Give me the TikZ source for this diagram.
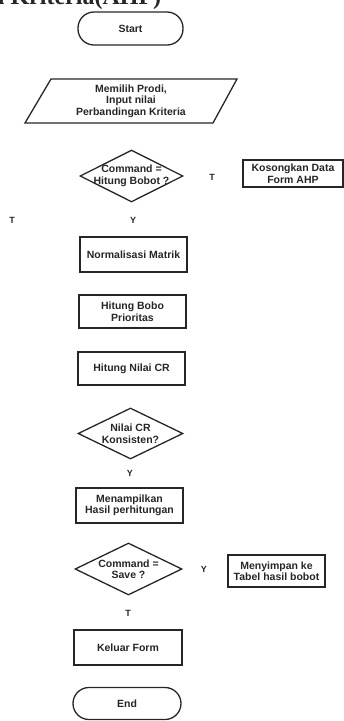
\documentclass[tikz,border=0pt]{standalone}
\usepackage{fontspec}
\setmainfont{Liberation Sans}
\newfontfamily\headfont{Liberation Serif}
\usetikzlibrary{shapes.geometric,calc}

\tikzset{
  flow/.style={draw=black!85, line width=1.3pt},
  procbox/.style={flow, rectangle, inner sep=0pt, align=center,
    font=\bfseries\fontsize{10.5}{11.5}\selectfont, text=black!85},
  termbox/.style={flow, rectangle, rounded corners=16pt, inner sep=0pt,
    align=center, font=\bfseries\fontsize{10.5}{11.5}\selectfont, text=black!85},
  decision/.style={flow, diamond, inner sep=0pt},
  plaintext/.style={inner sep=0pt, align=center,
    font=\bfseries\fontsize{10.5}{11.5}\selectfont, text=black!85},
  branch/.style={inner sep=0pt, font=\bfseries\fontsize{9}{10}\selectfont, text=black!85},
}

\begin{document}
\begin{tikzpicture}[x=1pt, y=-1pt]
  \useasboundingbox (0,0) rectangle (344,721);

  % heading of the page, only its lower edge is in view
  \begin{scope}
    \clip (0,0) rectangle (344,721);
    \node[anchor=base west, inner sep=0pt, text=black!85,
      font=\headfont\bfseries\fontsize{24}{24}\selectfont] (head) at (-9,4) {n Kriteria(AHP)};
  \end{scope}

  % terminals
  \node[termbox, minimum width=105pt, minimum height=33pt] (start) at (130.5,28.5) {Start};
  \node[termbox, minimum width=108pt, minimum height=32pt] (end) at (127,703.5) {End};

  % input: parallelogram
  \coordinate (io) at (131,101);
  \draw[flow] ($(io)+(-80,-22)$) coordinate (iotl) -- ($(io)+(106,-22)$) coordinate (iotr)
    -- ($(io)+(82,22)$) coordinate (iobr) -- ($(io)+(-106,22)$) coordinate (iobl) -- cycle;
  \node[plaintext] (iotext) at (io) {Memilih Prodi,\\Input nilai\\Perbandingan Kriteria};

  % first decision
  \node[decision, minimum width=103pt, minimum height=52pt] (d1) at (131.5,176) {};
  \node[plaintext] (d1text) at (d1) {Command =\\Hitung Bobot ?};
  \node[branch] (d1t) at (212,177) {T};
  \node[procbox, minimum width=100pt, minimum height=27pt] (kosong) at (293,173.5)
    {Kosongkan Data\\Form AHP};
  \node[branch] (leftt) at (12,220) {T};
  \node[branch] (d1y) at (133,220) {Y};

  % processing steps
  \node[procbox, minimum width=107pt, minimum height=35pt] (norm) at (133.5,254.5) {Normalisasi Matrik};
  \node[procbox, minimum width=107pt, minimum height=33pt] (bobot) at (132.5,311.5) {Hitung Bobo\\Prioritas};
  \node[procbox, minimum width=107pt, minimum height=33pt] (cr) at (131.5,368.5) {Hitung Nilai CR};

  % consistency check
  \node[decision, minimum width=105pt, minimum height=51pt] (d2) at (130.5,433.5) {};
  \node[plaintext] (d2text) at (d2) {Nilai CR\\Konsisten?};
  \node[branch] (d2y) at (130,473) {Y};

  \node[procbox, minimum width=107pt, minimum height=35pt] (tampil) at (129.5,505.5)
    {Menampilkan\\Hasil perhitungan};

  % save decision
  \node[decision, minimum width=107pt, minimum height=52pt] (d3) at (128.5,569) {};
  \node[plaintext] (d3text) at (d3) {Command =\\Save ?};
  \node[branch] (d3y) at (204,569) {Y};
  \node[procbox, minimum width=97pt, minimum height=32pt] (simpan) at (276.5,571)
    {Menyimpan ke\\Tabel hasil bobot};
  \node[branch] (d3t) at (128,613) {T};

  \node[procbox, minimum width=108pt, minimum height=35pt] (keluar) at (128,647.5) {Keluar Form};
\end{tikzpicture}
\end{document}
